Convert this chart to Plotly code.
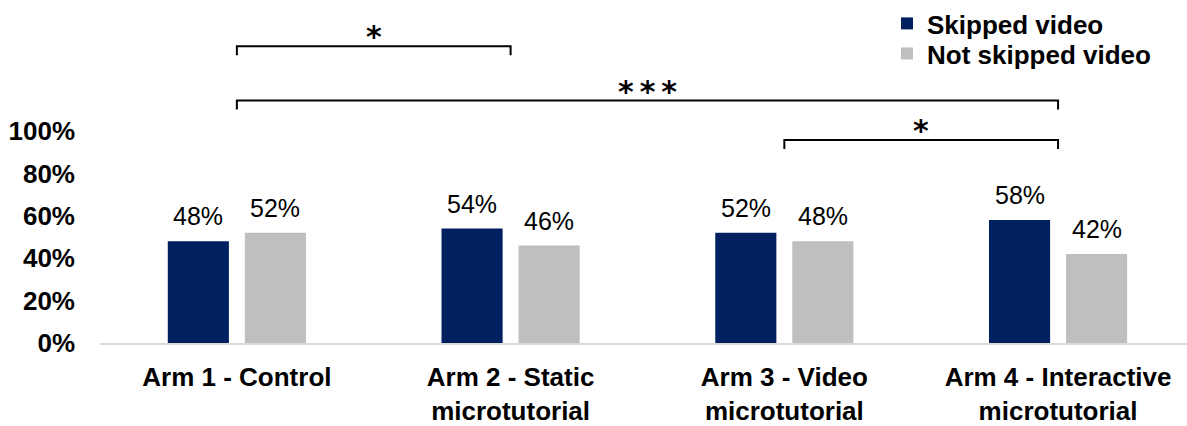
import plotly.graph_objects as go

# --- data -------------------------------------------------------------
categories = [
    "Arm 1 - Control",
    "Arm 2 - Static<br>microtutorial",
    "Arm 3 - Video<br>microtutorial",
    "Arm 4 - Interactive<br>microtutorial",
]
skipped = [48, 54, 52, 58]
not_skipped = [52, 46, 48, 42]
series_names = ["Skipped video", "Not skipped video"]
y_tick_values = [0, 20, 40, 60, 80, 100]
y_tick_labels = ["0%", "20%", "40%", "60%", "80%", "100%"]

# significance comparisons between arms
sig_from = [0, 0, 2]
sig_to = [1, 3, 3]
sig_label = ["*", "***", "*"]

# --- style ------------------------------------------------------------
FONT = "Arial, 'Liberation Sans', sans-serif"
NAVY = "#002060"
GREY = "#BFBFBF"
BARGAP = 0.437
BARGROUPGAP = 0.207

fig = go.Figure()
legend_ids = ["legend", "legend2"]
for name, vals, col, lg in zip(series_names, [skipped, not_skipped], [NAVY, GREY], legend_ids):
    fig.add_trace(go.Bar(
        x=list(range(len(categories))), y=vals, name=name,
        marker=dict(color=col, line=dict(width=0)),
        legend=lg, hoverinfo="skip",
    ))

# value labels above each bar
half = (1 - BARGAP) / 4
annotations = []
for sign, vals in zip([-1, 1], [skipped, not_skipped]):
    for i, v in enumerate(vals):
        annotations.append(dict(
            x=i + sign * half, y=v, xref="x", yref="y",
            text=f"{v}%", showarrow=False, yanchor="bottom", yshift=9,
            font=dict(family=FONT, size=25, color="#000000"),
        ))

# significance brackets
bracket_levels = [140, 114.4, 95.8]
drop = 4.2
shapes = []
for a, b, lvl, lab in zip(sig_from, sig_to, bracket_levels, sig_label):
    shapes.append(dict(
        type="path", xref="x", yref="y",
        path=f"M {a},{lvl - drop} L {a},{lvl} L {b},{lvl} L {b},{lvl - drop}",
        line=dict(color="#000000", width=2),
    ))
    annotations.append(dict(
        x=(a + b) / 2, y=lvl, xref="x", yref="y",
        text="\u2009".join(lab), showarrow=False,
        yanchor="bottom", yshift=-10,
        font=dict(family="DejaVu Sans", size=30, color="#000000", weight="bold"),
    ))

legend_font = dict(family=FONT, size=26, color="#000000", weight="bold")
fig.update_layout(
    width=1187, height=426,
    margin=dict(l=100, r=0, t=0, b=79),
    paper_bgcolor="white", plot_bgcolor="white",
    barmode="group", bargap=BARGAP, bargroupgap=BARGROUPGAP,
    font=dict(family=FONT, color="#000000"),
    showlegend=True,
    legend=dict(x=0.724, y=1.003, xanchor="left", yanchor="top",
                font=legend_font, bgcolor="rgba(0,0,0,0)"),
    legend2=dict(x=0.724, y=0.915, xanchor="left", yanchor="top",
                 font=legend_font, bgcolor="rgba(0,0,0,0)"),
    shapes=shapes,
    annotations=annotations,
)
fig.update_xaxes(
    type="linear", range=[-0.5, 3.471],
    tickmode="array", tickvals=list(range(len(categories))), ticktext=categories,
    tickfont=dict(family=FONT, size=26, color="#000000", weight="bold"),
    showline=True, linecolor="#D9D9D9", linewidth=2,
    showgrid=False, zeroline=False, ticks="", ticklabelstandoff=10,
)
fig.update_yaxes(
    range=[0, 161.4],
    tickmode="array", tickvals=y_tick_values, ticktext=y_tick_labels,
    tickfont=dict(family=FONT, size=26, color="#000000", weight="bold"),
    showline=False, showgrid=False, zeroline=False, ticks="",
    ticklabelstandoff=24,
)

fig.write_html("out.html")
